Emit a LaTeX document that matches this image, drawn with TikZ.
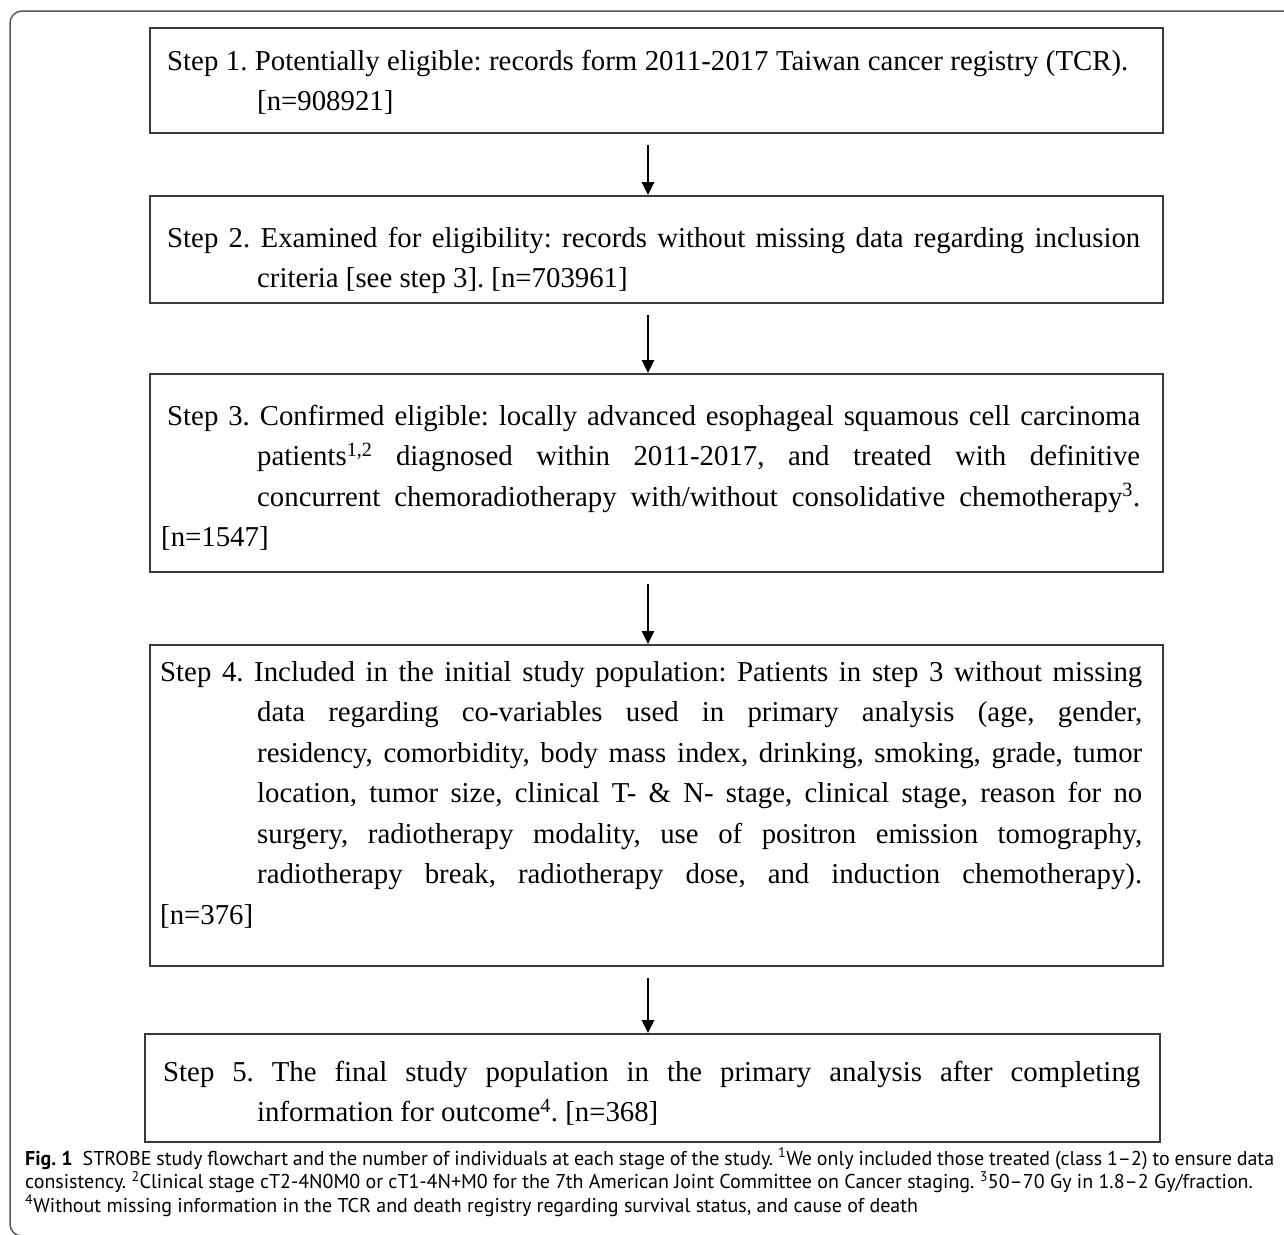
\documentclass[tikz,border=0pt]{standalone}
\usepackage{fontspec}
\setmainfont{Liberation Serif}[Ligatures=TeX]
\newfontfamily\capfont{PT Sans}[Ligatures=TeX]
\usetikzlibrary{arrows.meta}
\definecolor{boxgray}{HTML}{3A3A3A}
\definecolor{framegray}{HTML}{5A5A5A}
\newcommand\boxfont{\fontsize{28.8}{40.5}\selectfont\frenchspacing}
\newcommand\capsize{\fontsize{20}{23.7}\selectfont\frenchspacing}
\begin{document}
\begin{tikzpicture}[x=1pt,y=-1pt,
  flowbox/.style={draw=boxgray, line width=2pt, anchor=north west, inner sep=0pt},
  boxtext/.style={anchor=base west, inner sep=0pt, text=black},
  flowarrow/.style={draw=black, line width=2.6pt, shorten <=11pt,
    -{Triangle[length=13pt,width=12pt]}},
  frameline/.style={draw=framegray, line width=1.5pt, rounded corners=12pt}]
\useasboundingbox (0,0) rectangle (1284,1234);
\draw[frameline] (1300,11) -- (10,11) -- (10,1236) -- (1300,1236);
% boxes
\node[flowbox, minimum width=1013pt, minimum height=105pt] (b1) at (149,27) {};
\node[flowbox, minimum width=1013pt, minimum height=107pt] (b2) at (149,195) {};
\node[flowbox, minimum width=1013pt, minimum height=198pt] (b3) at (149,373) {};
\node[flowbox, minimum width=1013pt, minimum height=321pt] (b4) at (149,644) {};
\node[flowbox, minimum width=1015pt, minimum height=108pt] (b5) at (144,1033) {};
% texts
\node[boxtext] (t1) at (167,70) {\parbox[t]{1000pt}{\boxfont
  \makebox[961pt][s]{Step 1. Potentially eligible: records form 2011-2017 Taiwan cancer registry (TCR).}\\
  \hspace*{90pt}[n=908921]}};
\node[boxtext] (t2) at (167,247) {\parbox[t]{1000pt}{\boxfont
  \makebox[973pt][s]{Step 2. Examined for eligibility: records without missing data regarding inclusion}\\
  \hspace*{90pt}criteria [see step 3]. [n=703961]}};
\node[boxtext] (t3) at (167,425) {\parbox[t]{1000pt}{\boxfont
  \makebox[973pt][s]{Step 3. Confirmed eligible: locally advanced esophageal squamous cell carcinoma}\\
  \hspace*{90pt}\makebox[883pt][s]{patients\textsuperscript{1,2} diagnosed within 2011-2017, and treated with definitive}\\
  \hspace*{90pt}\makebox[883pt][s]{concurrent chemoradiotherapy with/without consolidative chemotherapy\textsuperscript{3}.}\\
  \hspace*{-6pt}[n=1547]}};
\node[boxtext] (t4) at (160,681) {\parbox[t]{1000pt}{\boxfont
  \makebox[982pt][s]{Step 4. Included in the initial study population: Patients in step 3 without missing}\\
  \hspace*{97pt}\makebox[885pt][s]{data regarding co-variables used in primary analysis (age, gender,}\\
  \hspace*{97pt}\makebox[885pt][s]{residency, comorbidity, body mass index, drinking, smoking, grade, tumor}\\
  \hspace*{97pt}\makebox[885pt][s]{location, tumor size, clinical T- \& N- stage, clinical stage, reason for no}\\
  \hspace*{97pt}\makebox[885pt][s]{surgery, radiotherapy modality, use of positron emission tomography,}\\
  \hspace*{97pt}\makebox[885pt][s]{radiotherapy break, radiotherapy dose, and induction chemotherapy).}\\
  \relax[n=376]}};
\node[boxtext] (t5) at (163,1081) {\parbox[t]{1000pt}{\boxfont
  \makebox[977pt][s]{Step 5. The final study population in the primary analysis after completing}\\
  \hspace*{94pt}information for outcome\textsuperscript{4}. [n=368]}};
% arrows
\coordinate (ax) at (648,0);
\draw[flowarrow] (b1.south -| ax) -- (b2.north -| ax);
\draw[flowarrow] (b2.south -| ax) -- (b3.north -| ax);
\draw[flowarrow] (b3.south -| ax) -- (b4.north -| ax);
\draw[flowarrow] (b4.south -| ax) -- (b5.north -| ax);
% caption
\node[boxtext] (cap) at (25,1165) {\parbox[t]{1260pt}{\capfont\capsize
  \makebox[1249pt][s]{\textbf{Fig.\hspace{5pt}1}\hspace{10pt}STROBE study flowchart and the number of individuals at each stage of the study. \textsuperscript{1}We only included those treated (class 1--2) to ensure data}\\
  consistency. \textsuperscript{2}Clinical stage cT2-4N0M0 or cT1-4N+M0 for the 7th American Joint Committee on Cancer staging. \textsuperscript{3}50--70 Gy in 1.8--2 Gy/fraction.\\
  \textsuperscript{4}Without missing information in the TCR and death registry regarding survival status, and cause of death}};
\end{tikzpicture}
\end{document}
